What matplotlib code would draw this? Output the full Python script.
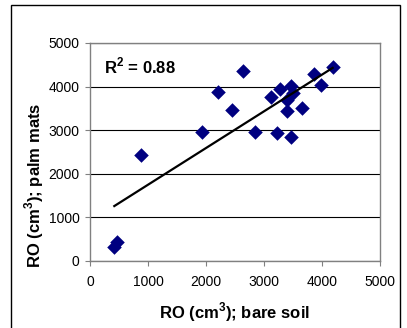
import numpy as np
import matplotlib
matplotlib.use("Agg")
import matplotlib.pyplot as plt
from matplotlib.patches import Rectangle

bare_soil = [419, 471, 874, 1931, 2213, 2454, 2638, 2845, 3115, 3218,
             3270, 3400, 3400, 3466, 3470, 3500, 3650, 3865, 3977, 4184]
palm_mats = [328, 428, 2424, 2966, 3876, 3456, 4365, 2970, 3770, 2940,
             3940, 3450, 3690, 2850, 4010, 3850, 3517, 4289, 4035, 4440]
x_ticks = [0, 1000, 2000, 3000, 4000, 5000]
y_ticks = [0, 1000, 2000, 3000, 4000, 5000]
r2_label = "R$^\\mathbf{2}$ = 0.88"

plt.rcParams['font.family'] = ['Liberation Sans', 'DejaVu Sans']
plt.rcParams['mathtext.fontset'] = 'custom'
plt.rcParams['mathtext.rm'] = 'Liberation Sans'
plt.rcParams['mathtext.bf'] = 'Liberation Sans:bold'

fig = plt.figure(figsize=(4.07, 3.28), dpi=100)
fig.patch.set_facecolor('white')
fig.patches.append(Rectangle((11/407, -0.05), 389/407, 1.05 - 5/328,
                             transform=fig.transFigure, fill=False,
                             edgecolor='black', linewidth=1.0))

ax = fig.add_axes([90/407, 1 - 261/328, 290/407, 218/328])
ax.set_xlim(0, 5000)
ax.set_ylim(0, 5000)
ax.set_xticks(x_ticks)
ax.set_yticks(y_ticks)
ax.yaxis.grid(True, color='black', linewidth=0.8)
ax.set_axisbelow(True)
for s in ax.spines.values():
    s.set_color('#808080')
    s.set_linewidth(1.0)
ax.tick_params(axis='both', direction='out', length=3.5, width=0.8,
               color='#808080', labelsize=10)
ax.tick_params(axis='y', pad=4)
ax.tick_params(axis='x', pad=6.5)

x = np.array(bare_soil, dtype=float)
y = np.array(palm_mats, dtype=float)
ax.scatter(x, y, marker='D', s=55, color='#000080', zorder=3, linewidths=0)
k, b = np.polyfit(x, y, 1)
xl = np.array([x.min(), x.max()])
ax.plot(xl, k * xl + b, color='black', linewidth=1.6, zorder=4)

ax.text(14/290, (261 - 66)/218, r2_label, transform=ax.transAxes, fontsize=12,
        fontweight='bold', va='center', ha='left')
ax.set_xlabel("RO (cm$^\\mathbf{3}$); bare soil", fontsize=12, fontweight='bold',
              va='center')
ax.xaxis.set_label_coords(0.5, (261 - 312)/218)
ax.set_ylabel("RO (cm$^\\mathbf{3}$); palm mats", fontsize=12, fontweight='bold',
              va='center')
ax.yaxis.set_label_coords((34 - 90)/290, (261 - 185.5)/218)

fig.savefig("out.png", dpi=100)
